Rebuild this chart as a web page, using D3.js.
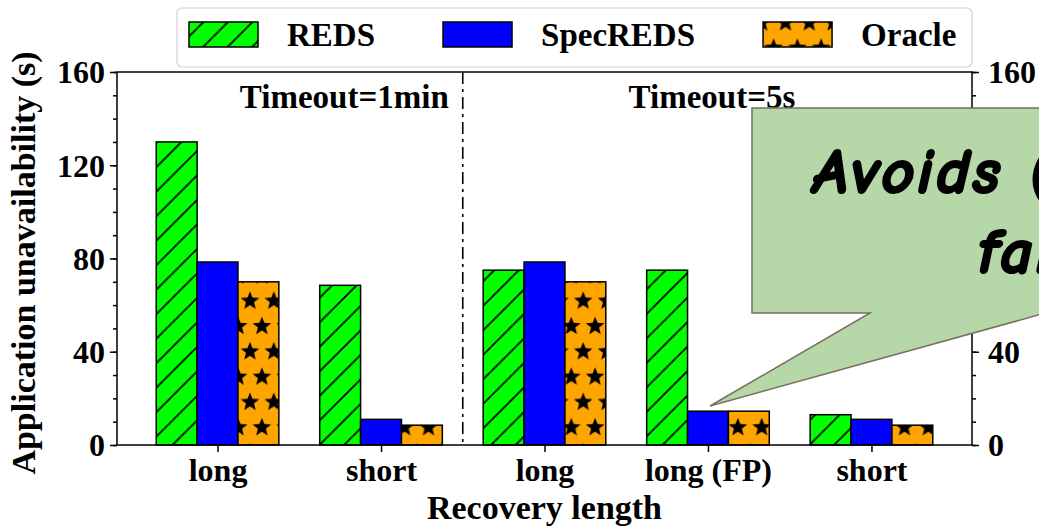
<!DOCTYPE html>
<html>
<head>
<meta charset="utf-8">
<script src="https://cdn.jsdelivr.net/npm/d3@7"></script>
<style>
  body { margin: 0; background: #fff; }
  text { font-family: "Liberation Serif", "Times New Roman", serif; font-weight: bold; }
</style>
</head>
<body>
<div id="chart"></div>
<script>
var categories = ["long", "short", "long", "long (FP)", "short"];
var series = ["REDS", "SpecREDS", "Oracle"];
var reds = [130, 68.5, 75, 75, 13];
var specreds = [78.5, 11, 78.5, 14.5, 11];
var oracle = [70, 8.5, 70, 14.5, 8.5];
var yTicks = [0, 40, 80, 120, 160];
var panels = ["Timeout=1min", "Timeout=5s"];
var note = ["Avoids (unneeded)", "failovers"];

var width = 1039, height = 530;
var margin = {left: 117, right: 67, top: 72, bottom: 85};

var svg = d3.select("#chart").append("svg")
  .attr("width", width)
  .attr("height", height)
  .style("display", "block");

svg.append("rect").attr("width", width).attr("height", height).attr("fill", "#fff");

var defs = svg.append("defs");

// "/" hatch
var hatch = defs.append("pattern")
  .attr("id", "hatch")
  .attr("patternUnits", "userSpaceOnUse")
  .attr("width", 24.5).attr("height", 24.5)
  .attr("x", 0).attr("y", 5);
hatch.append("rect").attr("width", 24.5).attr("height", 24.5).attr("fill", "#00ff00");
hatch.append("path")
  .attr("d", "M-2,26.5 L26.5,-2 M-6,6 L6,-6 M18.5,30.5 L30.5,18.5")
  .attr("stroke", "#000").attr("stroke-width", 1.7);

// star hatch
function starPath(cx, cy, R, r) {
  var pts = d3.range(10).map(function(i) {
    var a = -Math.PI / 2 + i * Math.PI / 5;
    var rad = i % 2 ? r : R;
    return [cx + rad * Math.cos(a), cy + rad * Math.sin(a)];
  });
  return "M" + pts.join("L") + "Z";
}
var sw = 23.8, sh = 50.6;
var stars = defs.append("pattern")
  .attr("id", "stars")
  .attr("patternUnits", "userSpaceOnUse")
  .attr("width", sw).attr("height", sh)
  .attr("x", 250 - sw / 2).attr("y", 300 - sh / 4);
stars.append("rect").attr("width", sw).attr("height", sh).attr("fill", "#ffa500");
stars.append("path")
  .attr("d", starPath(sw / 2, sh / 4 + 1, 9.8, 4.2) + starPath(0, sh * 3 / 4 + 1, 9.8, 4.2) + starPath(sw, sh * 3 / 4 + 1, 9.8, 4.2))
  .attr("fill", "#000");

var fills = {"REDS": "url(#hatch)", "SpecREDS": "#0000ff", "Oracle": "url(#stars)"};
var values = {"REDS": reds, "SpecREDS": specreds, "Oracle": oracle};

var x0 = d3.scaleBand()
  .domain(d3.range(categories.length))
  .range([margin.left, width - margin.right])
  .paddingInner(0)
  .paddingOuter(0.115);

var step = x0.step();
var x1 = d3.scaleBand()
  .domain(series)
  .range([step * 0.125, step * 0.875]);

var y = d3.scaleLinear()
  .domain([0, 160])
  .range([445, 72]);

var plotL = margin.left, plotR = width - margin.right;

// bars
series.forEach(function(s) {
  svg.append("g").selectAll("rect")
    .data(values[s])
    .enter().append("rect")
    .attr("x", function(d, i) { return x0(i) + x1(s); })
    .attr("y", function(d) { return y(d); })
    .attr("width", x1.bandwidth())
    .attr("height", function(d) { return y(0) - y(d); })
    .attr("fill", fills[s])
    .attr("stroke", "#000")
    .attr("stroke-width", 1.5);
});

// frame
svg.append("rect")
  .attr("x", plotL).attr("y", y(160))
  .attr("width", plotR - plotL).attr("height", y(0) - y(160))
  .attr("fill", "none").attr("stroke", "#000").attr("stroke-width", 1.5);

// divider
svg.append("line")
  .attr("x1", x0(1) + step).attr("x2", x0(1) + step)
  .attr("y1", y(160)).attr("y2", y(0))
  .attr("stroke", "#000").attr("stroke-width", 1.6)
  .attr("stroke-dasharray", "12,5,3,5");

function styleAxis(g) {
  g.select(".domain").remove();
  g.selectAll(".tick line").attr("stroke", "#000").attr("stroke-width", 1.5);
  g.selectAll(".tick text")
    .attr("font-size", 32)
    .attr("fill", "#000");
}

// y axes
svg.append("g").attr("transform", "translate(" + plotL + ",0)")
  .call(d3.axisLeft(y).tickValues(d3.range(0, 161, 10)).tickSize(4).tickFormat(""))
  .call(styleAxis);
svg.append("g").attr("transform", "translate(" + plotL + ",0)")
  .call(d3.axisLeft(y).tickValues(yTicks).tickSize(7).tickPadding(5))
  .call(styleAxis)
  .selectAll(".tick text").attr("dy", "0.34em");
svg.append("g").attr("transform", "translate(" + plotR + ",0)")
  .call(d3.axisRight(y).tickValues(d3.range(0, 161, 10)).tickSize(4).tickFormat(""))
  .call(styleAxis);
svg.append("g").attr("transform", "translate(" + plotR + ",0)")
  .call(d3.axisRight(y).tickValues(yTicks).tickSize(7).tickPadding(9))
  .call(styleAxis)
  .selectAll(".tick text").attr("dy", "0.34em");

// x axis
var xAxis = d3.axisBottom(d3.scalePoint().domain(d3.range(categories.length)).range([x0(0) + step / 2, x0(categories.length - 1) + step / 2]))
  .tickSize(7).tickPadding(6)
  .tickFormat(function(i) { return categories[i]; });
svg.append("g").attr("transform", "translate(0," + y(0) + ")")
  .call(xAxis)
  .call(styleAxis);

// axis titles
svg.append("text")
  .attr("x", (plotL + plotR) / 2).attr("y", 519)
  .attr("text-anchor", "middle").attr("font-size", 34)
  .text("Recovery length");
svg.append("text")
  .attr("transform", "translate(35,263) rotate(-90)")
  .attr("text-anchor", "middle").attr("font-size", 34)
  .text("Application unavailability (s)");

// panel titles
svg.append("text")
  .attr("x", x0(1) + step - 14).attr("y", 108)
  .attr("text-anchor", "end").attr("font-size", 33)
  .text(panels[0]);
svg.append("text")
  .attr("x", x0(3) + step / 2 + 4).attr("y", 108)
  .attr("text-anchor", "middle").attr("font-size", 33)
  .text(panels[1]);

// legend
var leg = svg.append("g");
leg.append("rect")
  .attr("x", 177).attr("y", 8).attr("width", 795).attr("height", 59)
  .attr("rx", 5)
  .attr("fill", "#fff").attr("fill-opacity", 0.8)
  .attr("stroke", "#d0d0d0").attr("stroke-width", 1.2);
var lx = 189;
series.forEach(function(s) {
  leg.append("rect")
    .attr("x", lx).attr("y", 22).attr("width", 69).attr("height", 25)
    .attr("fill", fills[s]).attr("stroke", "#000").attr("stroke-width", 1.5);
  var t = leg.append("text")
    .attr("x", lx + 98).attr("y", 46).attr("font-size", 33)
    .text(s);
  lx = lx + 98 + t.node().getComputedTextLength() + 68;
});

// callout
var callout = svg.append("g");
callout.append("path")
  .attr("d", d3.line()([[752, 108], [1060, 108], [1060, 309], [710, 406], [870, 313], [752, 313]]) + "Z")
  .attr("fill", "#b6d7a8")
  .attr("stroke", "#7a6e5e")
  .attr("stroke-width", 1.5);
callout.selectAll("text")
  .data(note)
  .enter().append("text")
  .attr("x", function(d, i) { return i ? 978 : 813; })
  .attr("y", function(d, i) { return i ? 273 : 193; })
  .style("font-family", "'Comic Sans MS', 'Comic Neue', 'DejaVu Sans', sans-serif")
  .style("font-style", "italic")
  .style("font-weight", "bold")
  .style("letter-spacing", "3px")
  .attr("font-size", 64)
  .attr("fill", "#000")
  .attr("stroke", "#000")
  .attr("stroke-width", 2.2)
  .attr("stroke-linejoin", "round")
  .text(function(d) { return d; });
</script>
</body>
</html>
